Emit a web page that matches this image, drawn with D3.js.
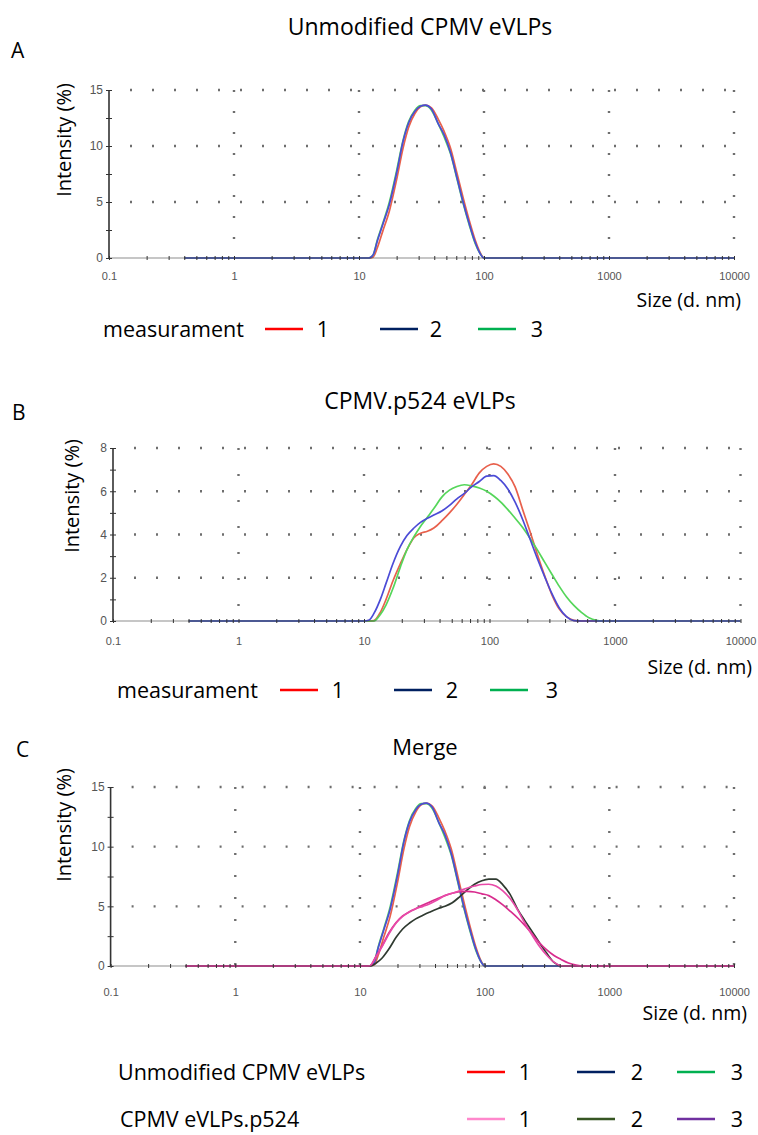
<!DOCTYPE html>
<html>
<head>
<meta charset="utf-8">
<script src="https://cdn.jsdelivr.net/npm/d3@7"></script>
<style>
  body { margin: 0; background: #fff; }
  svg { font-family: "Open Sans", sans-serif; }
  .tick text { font-family: "Liberation Sans", Arial, sans-serif; fill: #555; }
  .grid { stroke: #6e6e6e; stroke-width: 2.4; fill: none; }
  .curve { fill: none; stroke-width: 1.7; }
</style>
</head>
<body>
<svg width="758" height="1135"></svg>
<script>
const w = 758, h = 1135;

// ---- data ----
const xTicks = [0.1, 1, 10, 100, 1000, 10000];
const xTickLabels = ["0.1", "1", "10", "100", "1000", "10000"];
const yTicks15 = [0, 5, 10, 15];
const yMinor15 = [2.5, 7.5, 12.5];
const yTicks8 = [0, 2, 4, 6, 8];
const yMinor8 = [1, 3, 5, 7];

// unmodified CPMV eVLPs (size in nm, intensity in %)
const sizesUnmod = [0.4, 10, 12, 13, 14, 15.5, 17.5, 20, 22.5, 25, 28, 31, 34, 38, 43, 48, 54, 61, 68, 76, 85, 93, 100, 10000];
const unmod1 = [0, 0, 0, 0.1, 0.9, 2.4, 4.2, 7.0, 9.8, 11.7, 12.9, 13.5, 13.65, 13.4, 12.4, 11.3, 9.8, 7.5, 5.4, 3.4, 1.6, 0.5, 0, 0];
const unmod2 = [0, 0, 0, 0.3, 1.5, 3.0, 4.8, 7.6, 10.4, 12.1, 13.1, 13.55, 13.65, 13.3, 12.0, 11.0, 9.4, 7.1, 5.0, 3.1, 1.4, 0.4, 0, 0];
const unmod3 = [0, 0, 0, 0.3, 1.6, 3.1, 5.0, 7.8, 10.5, 12.2, 13.2, 13.6, 13.6, 13.2, 12.0, 10.8, 9.3, 7.0, 4.9, 3.0, 1.3, 0.4, 0, 0];

// CPMV.p524 eVLPs
const sizesP524 = [0.4, 10, 11, 12, 13.5, 15, 17, 19.5, 22, 25, 28, 32, 36, 42, 48, 55, 63, 72, 83, 95, 108, 123, 140, 160, 185, 210, 240, 275, 315, 360, 410, 470, 540, 620, 710, 800, 10000];
const p524_1 = [0, 0, 0, 0.02, 0.4, 1.0, 1.85, 2.65, 3.3, 3.85, 4.05, 4.15, 4.3, 4.65, 5.0, 5.4, 5.85, 6.3, 6.85, 7.15, 7.27, 7.15, 6.8, 6.2, 5.1, 4.15, 3.1, 2.1, 1.2, 0.55, 0.2, 0.03, 0, 0, 0, 0, 0];
const p524_2 = [0, 0, 0.05, 0.35, 1.0, 1.75, 2.65, 3.45, 3.95, 4.3, 4.55, 4.75, 4.9, 5.1, 5.35, 5.65, 5.9, 6.2, 6.45, 6.7, 6.72, 6.5, 6.1, 5.5, 4.65, 3.8, 2.9, 2.05, 1.25, 0.6, 0.2, 0.02, 0, 0, 0, 0, 0];
const p524_3 = [0, 0, 0, 0, 0.3, 0.75, 1.5, 2.5, 3.3, 3.9, 4.35, 4.8, 5.2, 5.75, 6.05, 6.22, 6.3, 6.25, 6.15, 6.0, 5.78, 5.5, 5.15, 4.75, 4.3, 3.83, 3.3, 2.72, 2.15, 1.6, 1.12, 0.72, 0.4, 0.15, 0.03, 0, 0];

// p524 curves as drawn in the merge panel
const mergeP524_1 = [0, 0, 0, 0.02, 0.8, 1.6, 2.65, 3.6, 4.15, 4.55, 4.8, 5.0, 5.2, 5.55, 5.9, 6.1, 6.3, 6.52, 6.7, 6.83, 6.85, 6.7, 6.3, 5.65, 4.65, 3.6, 2.6, 1.66, 0.9, 0.32, 0.02, 0, 0, 0, 0, 0, 0];
const mergeP524_2 = [0, 0, 0, 0, 0.25, 0.65, 1.4, 2.4, 3.1, 3.6, 3.95, 4.25, 4.5, 4.8, 5.0, 5.3, 5.8, 6.35, 6.85, 7.15, 7.28, 7.28, 6.8, 6.0, 4.7, 3.8, 2.9, 1.95, 1.06, 0.3, 0.02, 0, 0, 0, 0, 0, 0];
const mergeP524_3 = [0, 0, 0, 0.02, 0.85, 1.65, 2.75, 3.65, 4.2, 4.55, 4.8, 5.1, 5.35, 5.65, 5.9, 6.1, 6.23, 6.25, 6.2, 6.05, 5.9, 5.55, 5.12, 4.6, 4.0, 3.4, 2.7, 1.95, 1.35, 0.88, 0.55, 0.25, 0.08, 0, 0, 0, 0];

const legendNums = ["1", "2", "3"];
const legendColors = ["#ff0000", "#002060", "#00b050"];
const legendColorsP524 = ["#ff88cc", "#375623", "#7030a0"];

// ---- drawing ----
const svg = d3.select("svg");
const zip = (xs, ys) => xs.map((x, i) => [x, ys[i]]);

function drawPanel(p) {
  const g = svg.append("g");
  const x = d3.scaleLog().domain([0.1, 10000]).range([p.x0, p.x1]);
  const y = d3.scaleLinear().domain([0, p.ymax]).range([p.y0, p.y1]);

  // dotted grid
  g.selectAll("line.hgrid").data(p.yMajor.filter(d => d > 0))
    .join("line").attr("class", "grid")
    .attr("x1", p.x0 + 21).attr("x2", p.x1 + 2)
    .attr("y1", d => y(d)).attr("y2", d => y(d))
    .attr("stroke-dasharray", "2,20");
  g.selectAll("line.vgrid").data(xTicks.slice(1))
    .join("line").attr("class", "grid")
    .attr("x1", d => x(d)).attr("x2", d => x(d))
    .attr("y1", p.y1).attr("y2", p.y0)
    .attr("stroke-dasharray", p.vdash);

  // curves
  const line = d3.line().x(d => x(d[0])).y(d => y(d[1])).curve(d3.curveMonotoneX);
  p.series.forEach(s => {
    g.append("path").attr("class", "curve")
      .attr("d", line(zip(s.sizes, s.values)))
      .attr("stroke", s.color);
  });

  // y axis
  const yAxis = g.append("g").attr("transform", `translate(${p.x0},0)`)
    .call(d3.axisLeft(y).tickValues(p.yMajor).tickSize(3).tickPadding(3));
  yAxis.selectAll("text").style("font-size", "12px");
  g.append("g").attr("transform", `translate(${p.x0},0)`)
    .call(d3.axisRight(y).tickValues(p.yMajor.concat(p.yMinor)).tickSize(3).tickFormat(""));
  g.append("g").attr("transform", `translate(${p.x0},0)`)
    .call(d3.axisLeft(y).tickValues(p.yMinor).tickSize(3).tickFormat(""));
  g.selectAll(".domain").remove();
  g.append("line").attr("x1", p.x0).attr("x2", p.x0).attr("y1", p.y0).attr("y2", p.y1)
    .attr("stroke", "#333").attr("stroke-width", 1.6);

  // x axis
  const minorX = [];
  xTicks.slice(0, -1).forEach(d => { for (let k = 2; k < 10; k++) minorX.push(d * k); });
  g.append("line").attr("x1", p.x0).attr("x2", p.x1).attr("y1", p.y0).attr("y2", p.y0)
    .attr("stroke", "#333").attr("stroke-width", 1.2).attr("opacity", 0.55);
  const xAxis = g.append("g").attr("transform", `translate(0,${p.y0})`)
    .call(d3.axisBottom(x).tickValues(xTicks).tickFormat((d, i) => xTickLabels[i]).tickSize(0).tickPadding(p.xPad));
  xAxis.select(".domain").remove();
  xAxis.selectAll("text").style("font-size", "11px");
  const mt = g.append("g").attr("transform", `translate(0,${p.y0})`)
    .call(d3.axisBottom(x).tickValues(minorX.concat(xTicks)).tickSize(2).tickFormat(""));
  mt.select(".domain").remove();
  const mt2 = g.append("g").attr("transform", `translate(0,${p.y0})`)
    .call(d3.axisTop(x).tickValues(minorX.concat(xTicks)).tickSize(2).tickFormat(""));
  mt2.select(".domain").remove();
  g.selectAll(".tick line").attr("stroke", "#333");

  // labels
  svg.append("text").text(p.letter).attr("x", p.letterX).attr("y", p.letterY).style("font-size", "21px");
  svg.append("text").text(p.title).attr("x", p.titleX).attr("y", p.titleY)
    .attr("text-anchor", "middle").style("font-size", p.titleSize);
  svg.append("text").text("Intensity (%)")
    .attr("transform", `translate(${p.ylabX},${p.ylabY}) rotate(-90)`)
    .attr("text-anchor", "middle").attr("dominant-baseline", "central").style("font-size", "20px");
  svg.append("text").text("Size (d. nm)").attr("x", p.sizeX).attr("y", p.sizeY)
    .attr("text-anchor", "end").style("font-size", "19.5px");
}

function drawLegendRow(lx, ly, label, colors, lineX, numX) {
  svg.append("text").text(label).attr("x", lx).attr("y", ly).style("font-size", "21.5px");
  legendNums.forEach((n, i) => {
    svg.append("line").attr("x1", lineX[i]).attr("x2", lineX[i] + 38)
      .attr("y1", ly - 8).attr("y2", ly - 8)
      .attr("stroke", colors[i]).attr("stroke-width", 2.5);
    svg.append("text").text(n).attr("x", numX[i]).attr("y", ly)
      .attr("text-anchor", "middle").style("font-size", "21.5px");
  });
}

const cRed = "#e8604c", cBlue = "#4b4bd6", cGreen = "#55d65a";
const cPink = "#e84aa8", cMag = "#d82c8e", cDark = "#2f3a30";

drawPanel({
  letter: "A", letterX: 11, letterY: 58,
  title: "Unmodified CPMV eVLPs", titleX: 420, titleY: 35, titleSize: "23px",
  x0: 109, x1: 734, y0: 258, y1: 90, ymax: 15, yMajor: yTicks15, yMinor: yMinor15,
  vdash: "2,19", xPad: 14, ylabX: 63, ylabY: 140, sizeX: 741, sizeY: 307,
  series: [
    { sizes: sizesUnmod, values: unmod1, color: cRed },
    { sizes: sizesUnmod, values: unmod3, color: cGreen },
    { sizes: sizesUnmod, values: unmod2, color: cBlue }
  ]
});
drawLegendRow(103, 337, "measurament", legendColors, [265, 380, 478], [323, 436, 537]);

drawPanel({
  letter: "B", letterX: 12, letterY: 420,
  title: "CPMV.p524 eVLPs", titleX: 420, titleY: 409, titleSize: "23px",
  x0: 113, x1: 740.5, y0: 621, y1: 448, ymax: 8, yMajor: yTicks8, yMinor: yMinor8,
  vdash: "2,24", xPad: 16, ylabX: 71, ylabY: 496, sizeX: 752, sizeY: 674,
  series: [
    { sizes: sizesP524, values: p524_1, color: cRed },
    { sizes: sizesP524, values: p524_3, color: cGreen },
    { sizes: sizesP524, values: p524_2, color: cBlue }
  ]
});
drawLegendRow(117, 698, "measurament", legendColors, [280, 394, 490], [338, 452, 552]);

drawPanel({
  letter: "C", letterX: 16, letterY: 757,
  title: "Merge", titleX: 425, titleY: 755, titleSize: "22px",
  x0: 110.6, x1: 734, y0: 966, y1: 787, ymax: 15, yMajor: yTicks15, yMinor: yMinor15,
  vdash: "2,20", xPad: 22, ylabX: 63, ylabY: 825, sizeX: 747, sizeY: 1020,
  series: [
    { sizes: sizesUnmod, values: unmod1, color: cRed },
    { sizes: sizesUnmod, values: unmod3, color: cGreen },
    { sizes: sizesUnmod, values: unmod2, color: cBlue },
    { sizes: sizesP524, values: mergeP524_2, color: cDark },
    { sizes: sizesP524, values: mergeP524_3, color: cMag },
    { sizes: sizesP524, values: mergeP524_1, color: cPink }
  ]
});
drawLegendRow(118, 1080, "Unmodified CPMV eVLPs", legendColors, [467, 577, 677], [525, 637, 737]);
drawLegendRow(120, 1127, "CPMV eVLPs.p524", legendColorsP524, [467, 577, 677], [525, 637, 737]);
</script>
</body>
</html>
